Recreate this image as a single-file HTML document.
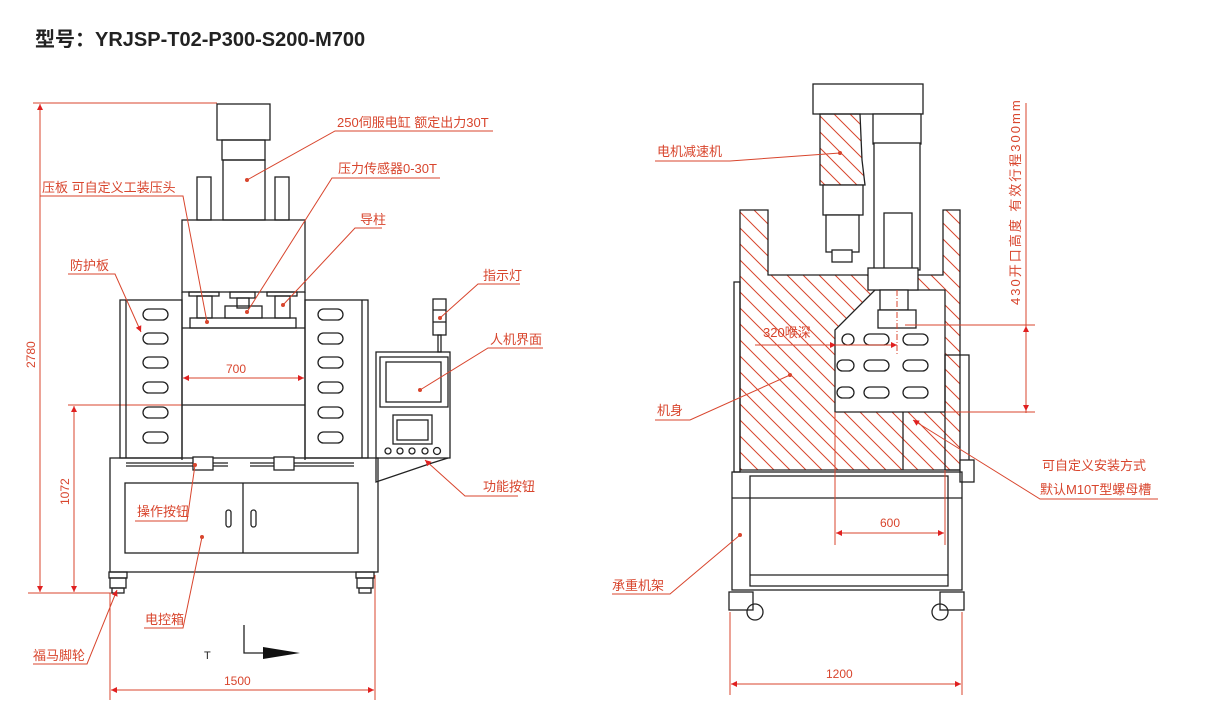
<!DOCTYPE html>
<html><head><meta charset="utf-8">
<style>
html,body{margin:0;padding:0;background:#fff;width:1226px;height:718px;overflow:hidden}
svg{display:block}
.t{font-family:"Liberation Sans","Noto Sans CJK SC",sans-serif;fill:#d8452d;font-size:13px}
.k{stroke:#222;stroke-width:1.3;fill:none}
.kf{stroke:#222;stroke-width:1.3;fill:#fff}
.r{stroke:#d8452d;stroke-width:1;fill:none}
.h{stroke:#222;stroke-width:1.3;fill:url(#hat)}
</style></head><body>
<svg width="1226" height="718" viewBox="0 0 1226 718" xmlns="http://www.w3.org/2000/svg">
<defs>
<pattern id="hat" width="16" height="16" patternUnits="userSpaceOnUse">
<path d="M-2,-2 L18,18 M-2,14 L2,18 M14,-2 L18,2" stroke="#d8452d" stroke-width="1"/>
</pattern>
<marker id="a" viewBox="0 0 10 10" refX="10" refY="5" markerWidth="14" markerHeight="6" orient="auto-start-reverse" markerUnits="userSpaceOnUse"><path d="M0,0 L10,5 L0,10z" fill="#e02020"/></marker>
<marker id="d" viewBox="0 0 4 4" refX="2" refY="2" markerWidth="4" markerHeight="4" markerUnits="userSpaceOnUse"><circle cx="2" cy="2" r="2" fill="#d8452d"/></marker>
</defs>

<text x="35" y="46" style="font-family:'Liberation Sans','Noto Sans CJK SC',sans-serif;font-size:20px;font-weight:bold;fill:#222">型号：YRJSP-T02-P300-S200-M700</text>

<!-- ========== LEFT VIEW ========== -->
<line class="r" x1="33" y1="103" x2="217" y2="103"/>
<line class="r" x1="40" y1="104" x2="40" y2="592" marker-start="url(#a)" marker-end="url(#a)"/>
<text class="t" transform="translate(35,368) rotate(-90)" style="font-size:12px">2780</text>
<line class="r" x1="68" y1="405" x2="182" y2="405"/>
<line class="r" x1="74" y1="406" x2="74" y2="592" marker-start="url(#a)" marker-end="url(#a)"/>
<text class="t" transform="translate(69,505) rotate(-90)" style="font-size:12px">1072</text>
<line class="r" x1="28" y1="593" x2="115" y2="593"/>

<rect class="k" x="217" y="104" width="53" height="36"/>
<rect class="k" x="222" y="140" width="43" height="20"/>
<rect class="k" x="223" y="160" width="42" height="60"/>
<rect class="k" x="197" y="177" width="14" height="43"/>
<rect class="k" x="275" y="177" width="14" height="43"/>
<rect class="k" x="182" y="220" width="123" height="72"/>
<line class="k" x1="182" y1="292" x2="182" y2="460"/>
<line class="k" x1="305" y1="292" x2="305" y2="460"/>
<rect class="k" x="189" y="292" width="30" height="4"/>
<rect class="k" x="267" y="292" width="30" height="4"/>
<rect class="k" x="197" y="296" width="15" height="22"/>
<rect class="k" x="275" y="296" width="15" height="22"/>
<rect class="k" x="230" y="292" width="25" height="6"/>
<rect class="k" x="237" y="298" width="12" height="10"/>
<rect class="k" x="225" y="306" width="37" height="12"/>
<rect class="k" x="190" y="318" width="106" height="10"/>
<line class="k" x1="182" y1="328" x2="305" y2="328"/>
<line class="k" x1="182" y1="405" x2="305" y2="405"/>

<rect class="k" x="120" y="300" width="62" height="158"/>
<line class="k" x1="126" y1="300" x2="126" y2="458"/>
<rect class="k" x="305" y="300" width="63" height="158"/>
<line class="k" x1="362" y1="300" x2="362" y2="458"/>
<g class="k">
<rect x="143" y="309" width="25" height="11" rx="5.5"/><rect x="143" y="333" width="25" height="11" rx="5.5"/><rect x="143" y="357" width="25" height="11" rx="5.5"/><rect x="143" y="382" width="25" height="11" rx="5.5"/><rect x="143" y="407" width="25" height="11" rx="5.5"/><rect x="143" y="432" width="25" height="11" rx="5.5"/>
<rect x="318" y="309" width="25" height="11" rx="5.5"/><rect x="318" y="333" width="25" height="11" rx="5.5"/><rect x="318" y="357" width="25" height="11" rx="5.5"/><rect x="318" y="382" width="25" height="11" rx="5.5"/><rect x="318" y="407" width="25" height="11" rx="5.5"/><rect x="318" y="432" width="25" height="11" rx="5.5"/>
</g>

<line class="r" x1="183" y1="378" x2="304" y2="378" marker-start="url(#a)" marker-end="url(#a)"/>
<text class="t" x="226" y="373" style="font-size:12px">700</text>

<rect class="k" x="110" y="458" width="268" height="114"/>
<line class="k" x1="126" y1="463" x2="228" y2="463"/><line class="k" x1="126" y1="466" x2="228" y2="466"/>
<line class="k" x1="250" y1="463" x2="354" y2="463"/><line class="k" x1="250" y1="466" x2="354" y2="466"/>
<rect class="kf" x="193" y="457" width="20" height="13"/>
<rect class="kf" x="274" y="457" width="20" height="13"/>
<rect class="k" x="125" y="483" width="233" height="70"/>
<line class="k" x1="243" y1="483" x2="243" y2="553"/>
<rect class="k" x="226" y="510" width="5" height="17" rx="2.5"/>
<rect class="k" x="251" y="510" width="5" height="17" rx="2.5"/>
<g class="k"><rect x="109" y="572" width="18" height="6"/><rect x="110" y="578" width="16" height="10"/><rect x="112" y="588" width="12" height="5"/>
<rect x="356" y="572" width="18" height="6"/><rect x="357" y="578" width="16" height="10"/><rect x="359" y="588" width="12" height="5"/></g>

<rect class="k" x="433" y="299" width="13" height="36"/>
<line class="k" x1="433" y1="310" x2="446" y2="310"/><line class="k" x1="433" y1="322" x2="446" y2="322"/>
<rect class="k" x="438" y="335" width="3" height="17"/>
<rect class="k" x="376" y="352" width="74" height="106"/>
<rect class="k" x="380" y="357" width="68" height="50"/>
<rect class="k" x="386" y="362" width="55" height="40"/>
<rect class="k" x="393" y="415" width="39" height="29"/>
<rect class="k" x="397" y="420" width="31" height="20"/>
<g class="k"><circle cx="388" cy="451" r="3"/><circle cx="400" cy="451" r="3"/><circle cx="412" cy="451" r="3"/><circle cx="425" cy="451" r="3"/><circle cx="437" cy="451" r="3.5"/></g>
<path class="k" d="M376,458 L376,482 L432,463 L448,458"/>

<line class="r" x1="110" y1="593" x2="110" y2="700"/>
<line class="r" x1="375" y1="575" x2="375" y2="700"/>
<line class="r" x1="111" y1="690" x2="374" y2="690" marker-start="url(#a)" marker-end="url(#a)"/>
<text class="t" x="224" y="685" style="font-size:12px">1500</text>
<text x="204" y="659" style="font-family:'Liberation Sans',sans-serif;font-size:11px;fill:#222">T</text>
<path d="M244,625 L244,653 L272,653" stroke="#222" stroke-width="1.3" fill="none"/>
<path d="M263,647 L300,653 L263,659z" fill="#111"/>

<text class="t" x="337" y="127">250伺服电缸 额定出力30T</text>
<polyline class="r" points="493,131 335,131 247,180" marker-end="url(#d)"/>
<text class="t" x="338" y="173">压力传感器0-30T</text>
<polyline class="r" points="440,178 332,178 247,312" marker-end="url(#d)"/>
<text class="t" x="42" y="192">压板 可自定义工装压头</text>
<polyline class="r" points="40,196 183,196 207,322" marker-end="url(#d)"/>
<text class="t" x="360" y="224">导柱</text>
<polyline class="r" points="382,228 355,228 283,305" marker-end="url(#d)"/>
<text class="t" x="70" y="270">防护板</text>
<polyline class="r" points="68,274 115,274 141,332" marker-end="url(#a)"/>
<text class="t" x="483" y="280">指示灯</text>
<polyline class="r" points="520,284 478,284 440,318" marker-end="url(#d)"/>
<text class="t" x="490" y="344">人机界面</text>
<polyline class="r" points="543,348 488,348 420,390" marker-end="url(#d)"/>
<text class="t" x="483" y="491">功能按钮</text>
<polyline class="r" points="518,496 465,496 425,460" marker-end="url(#a)"/>
<text class="t" x="137" y="516">操作按钮</text>
<polyline class="r" points="135,521 187,521 195,465" marker-end="url(#d)"/>
<text class="t" x="145" y="624">电控箱</text>
<polyline class="r" points="144,628 183,628 202,537" marker-end="url(#d)"/>
<text class="t" x="33" y="660">福马脚轮</text>
<polyline class="r" points="33,664 87,664 117,590" marker-end="url(#a)"/>

<!-- ========== RIGHT VIEW ========== -->
<rect class="h" x="740" y="210" width="220" height="260" style="stroke:none"/>
<rect x="768.5" y="205" width="174" height="69.5" fill="#fff"/>
<path class="k" d="M740,210 L768,210 L768,275 L943,275 L943,210 L960,210 L960,470 L740,470z"/>
<path class="kf" d="M835,412 L835,330 L875,290 L945,290 L945,412z"/>
<g class="k">
<rect x="864" y="334" width="25" height="11" rx="5.5"/><rect x="903" y="334" width="25" height="11" rx="5.5"/><rect x="842" y="334" width="12" height="11" rx="5.5"/>
<rect x="864" y="360" width="25" height="11" rx="5.5"/><rect x="903" y="360" width="25" height="11" rx="5.5"/><rect x="837" y="360" width="17" height="11" rx="5.5"/>
<rect x="864" y="387" width="25" height="11" rx="5.5"/><rect x="903" y="387" width="25" height="11" rx="5.5"/><rect x="837" y="387" width="17" height="11" rx="5.5"/>
</g>
<rect class="kf" x="813" y="84" width="110" height="30"/>
<path class="h" d="M820,114 L860,114 L862,160 L865,185 L820,185z"/>
<rect class="kf" x="823" y="185" width="40" height="30"/>
<rect class="kf" x="826" y="215" width="33" height="37"/>
<rect class="kf" x="832" y="250" width="20" height="12"/>
<rect class="kf" x="873" y="114" width="48" height="30"/>
<rect class="kf" x="874" y="143" width="46" height="127"/>
<rect class="kf" x="884" y="213" width="28" height="62"/>
<rect class="kf" x="868" y="268" width="50" height="22"/>
<rect class="kf" x="880" y="290" width="28" height="20"/>
<rect class="kf" x="878" y="310" width="38" height="18"/>
<rect class="k" x="945" y="355" width="24" height="115"/>
<rect class="kf" x="960" y="460" width="14" height="22"/>
<rect class="k" x="734" y="282" width="6" height="190"/>
<line class="k" x1="903" y1="412" x2="903" y2="470"/>
<rect class="k" x="732" y="472" width="230" height="118"/>
<rect class="k" x="750" y="476" width="198" height="110"/>
<line class="k" x1="732" y1="498" x2="962" y2="498"/>
<line class="k" x1="750" y1="575" x2="948" y2="575"/>
<g class="k"><rect x="729" y="592" width="24" height="18"/><circle cx="755" cy="612" r="8"/><rect x="940" y="592" width="24" height="18"/><circle cx="940" cy="612" r="8"/></g>

<line class="r" x1="1026" y1="103" x2="1026" y2="413"/>
<line class="r" x1="905" y1="325" x2="1035" y2="325"/>
<line class="r" x1="945" y1="412" x2="1035" y2="412"/>
<line class="r" x1="1026" y1="326" x2="1026" y2="411" marker-start="url(#a)" marker-end="url(#a)"/>
<text class="t" transform="translate(1020,305) rotate(-90)" style="font-size:13px;letter-spacing:2px">430开口高度  有效行程300mm</text>
<text class="t" x="763" y="337">320喉深</text>
<line class="r" x1="755" y1="345" x2="897" y2="345"/>
<line class="r" x1="822" y1="345" x2="836" y2="345" marker-end="url(#a)"/>
<line class="r" x1="870" y1="345" x2="897" y2="345" marker-end="url(#a)"/>
<line class="r" x1="897" y1="290" x2="897" y2="355" stroke-dasharray="6,2,1,2"/>
<line class="r" x1="835" y1="412" x2="835" y2="545"/>
<line class="r" x1="945" y1="470" x2="945" y2="545"/>
<line class="r" x1="836" y1="533" x2="944" y2="533" marker-start="url(#a)" marker-end="url(#a)"/>
<text class="t" x="880" y="527" style="font-size:12px">600</text>
<line class="r" x1="730" y1="612" x2="730" y2="695"/>
<line class="r" x1="962" y1="612" x2="962" y2="695"/>
<line class="r" x1="731" y1="684" x2="961" y2="684" marker-start="url(#a)" marker-end="url(#a)"/>
<text class="t" x="826" y="678" style="font-size:12px">1200</text>

<text class="t" x="657" y="156">电机减速机</text>
<polyline class="r" points="655,161 730,161 840,153" marker-end="url(#d)"/>
<text class="t" x="657" y="415">机身</text>
<polyline class="r" points="655,420 690,420 790,375" marker-end="url(#d)"/>
<text class="t" x="1042" y="470">可自定义安装方式</text>
<text class="t" x="1040" y="494">默认M10T型螺母槽</text>
<polyline class="r" points="1158,499 1040,499 913,420" marker-end="url(#a)"/>
<text class="t" x="612" y="590">承重机架</text>
<polyline class="r" points="612,594 670,594 740,535" marker-end="url(#d)"/>
</svg>
</body></html>
